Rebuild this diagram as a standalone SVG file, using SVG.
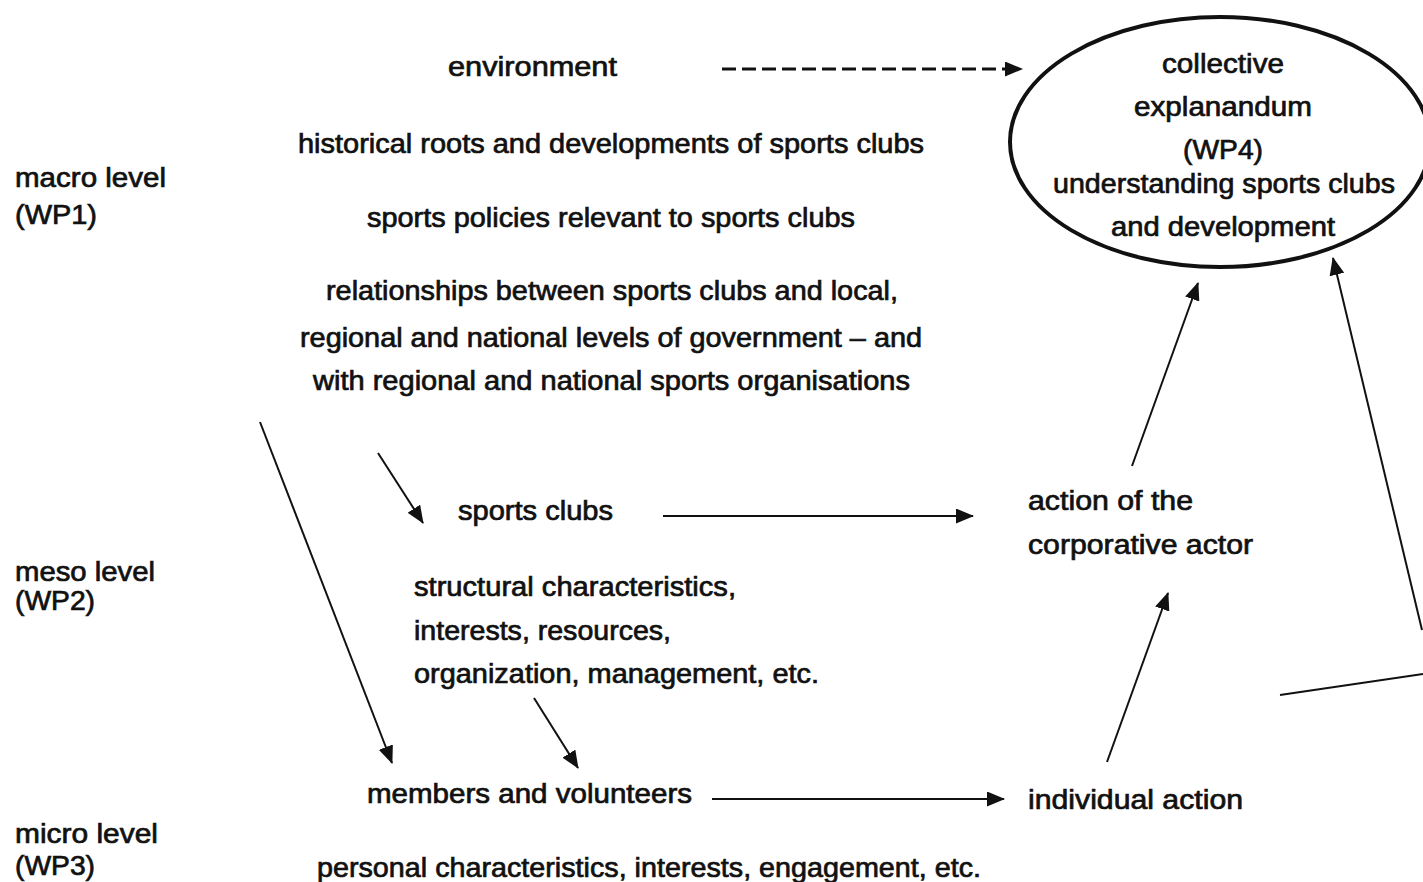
<svg xmlns="http://www.w3.org/2000/svg" width="1423" height="882" viewBox="0 0 1423 882">
<defs>
<style>
text{font-family:"Liberation Sans",Arial,sans-serif;font-size:27px;fill:#111;stroke:#111;stroke-width:0.7px;}
.c{stroke:#111;stroke-width:2;fill:none;}
.d{stroke:#111;stroke-width:3;fill:none;stroke-dasharray:14,6;}
</style>
<marker id="a" viewBox="0 0 18 15" refX="17" refY="7.5" markerWidth="18" markerHeight="15" markerUnits="userSpaceOnUse" orient="auto">
<path d="M0,0 L18,7.5 L0,15 z" fill="#111"/>
</marker>
</defs>
<rect width="1423" height="882" fill="#fff"/>
<g id="levels">
<text x="15" y="187" textLength="151" lengthAdjust="spacingAndGlyphs">macro level</text>
<text x="15" y="224" textLength="82" lengthAdjust="spacingAndGlyphs">(WP1)</text>
<text x="15" y="581" textLength="140" lengthAdjust="spacingAndGlyphs">meso level</text>
<text x="15" y="610" textLength="80" lengthAdjust="spacingAndGlyphs">(WP2)</text>
<text x="15" y="843" textLength="143" lengthAdjust="spacingAndGlyphs">micro level</text>
<text x="15" y="875" textLength="80" lengthAdjust="spacingAndGlyphs">(WP3)</text>
</g>
<g id="macro">
<text x="448" y="76" textLength="169" lengthAdjust="spacingAndGlyphs">environment</text>
<text x="298" y="153" textLength="626" lengthAdjust="spacingAndGlyphs">historical roots and developments of sports clubs</text>
<text x="367" y="227" textLength="488" lengthAdjust="spacingAndGlyphs">sports policies relevant to sports clubs</text>
<text x="326" y="300" textLength="572" lengthAdjust="spacingAndGlyphs">relationships between sports clubs and local,</text>
<text x="300" y="347" textLength="622" lengthAdjust="spacingAndGlyphs">regional and national levels of government – and</text>
<text x="313" y="390" textLength="597" lengthAdjust="spacingAndGlyphs">with regional and national sports organisations</text>
</g>
<g id="meso">
<text x="458" y="520" textLength="155" lengthAdjust="spacingAndGlyphs">sports clubs</text>
<text x="414" y="596" textLength="322" lengthAdjust="spacingAndGlyphs">structural characteristics,</text>
<text x="414" y="640" textLength="257" lengthAdjust="spacingAndGlyphs">interests, resources,</text>
<text x="414" y="683" textLength="405" lengthAdjust="spacingAndGlyphs">organization, management, etc.</text>
</g>
<g id="micro">
<text x="367" y="803" textLength="325" lengthAdjust="spacingAndGlyphs">members and volunteers</text>
<text x="317" y="877" textLength="664" lengthAdjust="spacingAndGlyphs">personal characteristics, interests, engagement, etc.</text>
</g>
<g id="corporate">
<text x="1028" y="510" textLength="165" lengthAdjust="spacingAndGlyphs">action of the</text>
<text x="1028" y="554" textLength="225" lengthAdjust="spacingAndGlyphs">corporative actor</text>
</g>
<g id="individual">
<text x="1028" y="809" textLength="215" lengthAdjust="spacingAndGlyphs">individual action</text>
</g>
<g id="explanandum">
<ellipse cx="1220" cy="142" rx="210" ry="125" fill="none" stroke="#111" stroke-width="4"/>
<text x="1162" y="73" textLength="122" lengthAdjust="spacingAndGlyphs">collective</text>
<text x="1134" y="116" textLength="178" lengthAdjust="spacingAndGlyphs">explanandum</text>
<text x="1183" y="159" textLength="80" lengthAdjust="spacingAndGlyphs">(WP4)</text>
<text x="1053" y="193" textLength="342" lengthAdjust="spacingAndGlyphs">understanding sports clubs</text>
<text x="1111" y="236" textLength="224" lengthAdjust="spacingAndGlyphs">and development</text>
</g>
<g id="connectors">
<line class="d" x1="722" y1="69" x2="1022" y2="69" marker-end="url(#a)"/>
<line class="c" x1="663" y1="516" x2="973" y2="516" marker-end="url(#a)"/>
<line class="c" x1="712" y1="799" x2="1004" y2="799" marker-end="url(#a)"/>
<line class="c" x1="378" y1="453" x2="423" y2="523" marker-end="url(#a)"/>
<line class="c" x1="260" y1="422" x2="392" y2="763" marker-end="url(#a)"/>
<line class="c" x1="534" y1="698" x2="578" y2="768" marker-end="url(#a)"/>
<line class="c" x1="1107" y1="762" x2="1168" y2="593" marker-end="url(#a)"/>
<line class="c" x1="1132" y1="466" x2="1198" y2="283" marker-end="url(#a)"/>
<line class="c" x1="1422" y1="630" x2="1333" y2="258" marker-end="url(#a)"/>
<line class="c" x1="1280" y1="695" x2="1423" y2="674"/>
</g>
</svg>
